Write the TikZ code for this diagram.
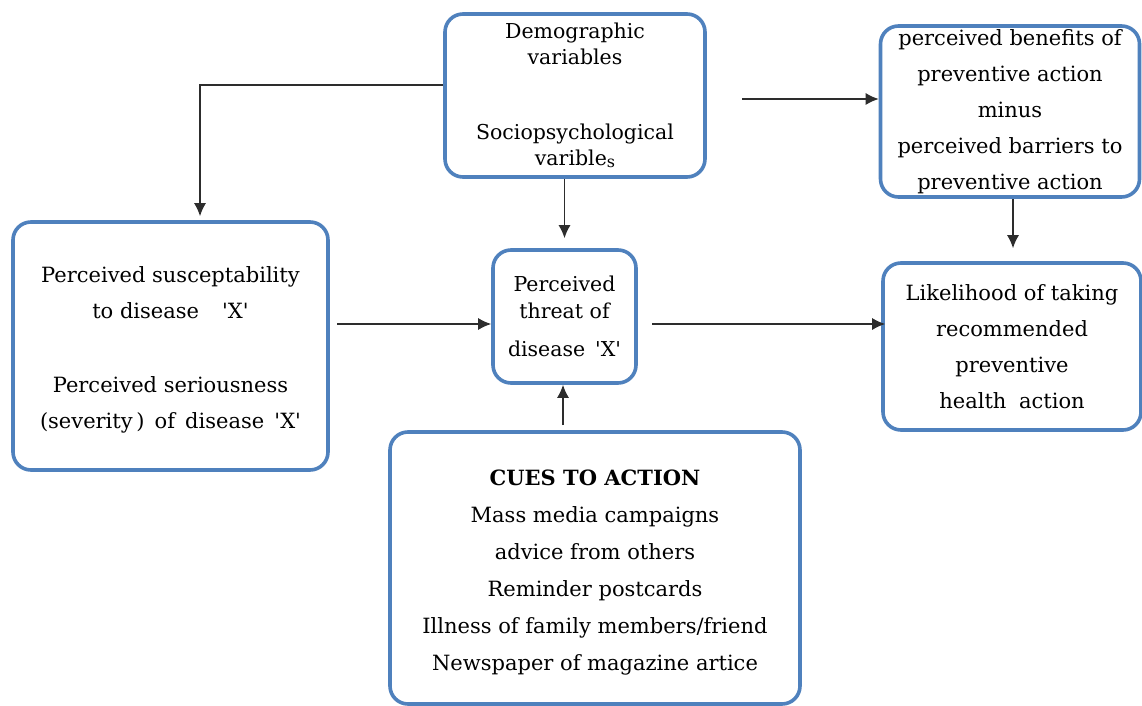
\documentclass[tikz,border=0pt]{standalone}
\usepackage{fontspec}
\setmainfont{DejaVu Serif}
\usetikzlibrary{arrows.meta}
\definecolor{boxblue}{RGB}{79,129,189}
\definecolor{arrowgray}{RGB}{45,45,45}
\newcommand{\sqt}{\textquotesingle}
\begin{document}
\begin{tikzpicture}[x=1pt,y=-1pt,
  box/.style={draw=boxblue,line width=3.6pt,rounded corners=18pt,fill=white,
    rectangle,align=center,inner sep=0pt},
  conn/.style={draw=arrowgray,line width=1.4pt,-{Latex[length=13pt,width=12pt]}}]
\useasboundingbox[fill=white] (0,0) rectangle (1142,706);

\node[box,minimum width=260pt,minimum height=163pt,font=\fontsize{20.5}{26}\selectfont] (demog) at (575,95.5)
  {Demographic\\variables\\[49pt]Sociopsychological\\varible\raisebox{-2pt}{\fontsize{16}{16}\selectfont s}};
\node[box,minimum width=259pt,minimum height=171pt,font=\fontsize{21}{36}\selectfont] (benef) at (1010,111.5)
  {perceived benefits of\\preventive action\\minus\\perceived barriers to\\preventive action};
\node[box,minimum width=315pt,minimum height=248pt,font=\fontsize{21}{36}\selectfont] (susc) at (170.5,346)
  {\mbox{}\\[-12pt]Perceived susceptability\\to disease\hspace{1.1em}\sqt X\sqt\\[38pt]Perceived seriousness\\(severity\,)\, of\, disease\, \sqt X\sqt};
\node[box,minimum width=143pt,minimum height=133pt,font=\fontsize{20.5}{27}\selectfont] (threat) at (564.5,316.5)
  {Perceived\\threat of\\[11pt]disease\, \sqt X\sqt};
\node[box,minimum width=258pt,minimum height=167pt,font=\fontsize{21}{36}\selectfont] (lik) at (1012,346.5)
  {Likelihood of taking\\recommended\\preventive\\health\hspace{0.6em}action};
\node[box,minimum width=410pt,minimum height=272pt,font=\fontsize{21}{37}\selectfont] (cues) at (595,568)
  {\mbox{}\\[-13pt]\textbf{CUES TO ACTION}\\Mass media campaigns\\advice from others\\Reminder postcards\\Illness of family members/friend\\Newspaper of magazine artice};

\coordinate (b0) at (742,99);
\coordinate (s0) at (337,324);
\coordinate (t0) at (652,324);
\coordinate (c0) at (563,425);

\draw[conn] ([yshift=10.5pt]demog.west) -| ([xshift=29.5pt,yshift=4pt]susc.north);
\draw[conn] (threat.north |- demog.south) -- ([yshift=10pt]threat.north);
\draw[conn] (b0) -- (b0 -| benef.west);
\draw[conn] ([xshift=3pt]benef.south) -- ([xshift=1pt,yshift=13pt]lik.north);
\draw[conn] (s0) -- (s0 -| threat.west);
\draw[conn] (t0) -- ([xshift=4pt]t0 -| lik.west);
\draw[conn] (c0) -- (c0 |- threat.south);
\end{tikzpicture}
\end{document}
